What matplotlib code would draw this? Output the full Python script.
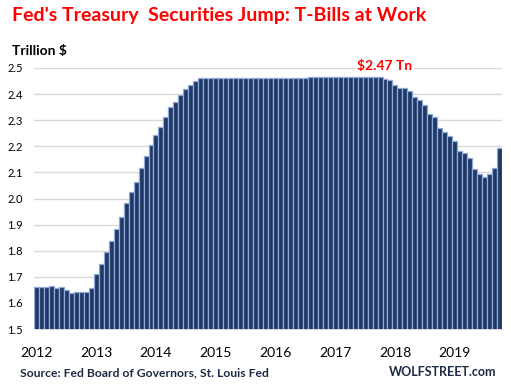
import numpy as np
import matplotlib.pyplot as plt

plt.rcParams['font.family'] = ['Lato', 'DejaVu Sans']

# monthly values, Jan 2012 .. Oct 2019, trillion $
y2012 = [1.660, 1.660, 1.662, 1.666, 1.656, 1.662, 1.649, 1.637, 1.643, 1.643, 1.643, 1.656]
y2013 = [1.711, 1.749, 1.795, 1.838, 1.883, 1.928, 1.982, 2.024, 2.062, 2.115, 2.162, 2.206]
y2014 = [2.242, 2.275, 2.311, 2.350, 2.369, 2.397, 2.419, 2.436, 2.450, 2.4615, 2.4615, 2.4615]
y2015 = [2.4615] * 12
y2016 = [2.4615] * 7 + [2.4645] * 5
y2017 = [2.4645] * 10 + [2.458, 2.453]
y2018 = [2.435, 2.422, 2.422, 2.412, 2.388, 2.377, 2.358, 2.323, 2.312, 2.269, 2.254, 2.238]
y2019 = [2.219, 2.182, 2.173, 2.154, 2.112, 2.092, 2.081, 2.092, 2.115, 2.192]
years = ["2012", "2013", "2014", "2015", "2016", "2017", "2018", "2019"]

values = np.array(y2012 + y2013 + y2014 + y2015 + y2016 + y2017 + y2018 + y2019)
x = np.arange(len(values))
peak = 70  # where the "$2.47 Tn" label sits

fig = plt.figure(figsize=(5.11, 3.86), dpi=100)
ax = fig.add_axes([34 / 511, 1 - 329 / 386, 468 / 511, 261 / 386])

ax.bar(x, values, width=1.0, color="#203864", edgecolor="#8FAADC", linewidth=0.9, zorder=3)

ax.set_ylim(1.5, 2.5)
ax.set_xlim(-0.5, len(values) - 0.5)
ax.set_yticks(np.arange(1.5, 2.51, 0.1))
ax.set_yticklabels([f"{v:.1f}" for v in np.arange(1.5, 2.51, 0.1)], fontsize=8)
ax.set_xticks(np.arange(0, len(values), 12))
ax.set_xticklabels(years, fontsize=10)
ax.tick_params(length=0)
ax.tick_params(axis="y", pad=8)
ax.tick_params(axis="x", pad=13)
ax.grid(axis="y", color="#D9D9D9", linewidth=1, zorder=0)
for s in ["top", "right", "left"]:
    ax.spines[s].set_visible(False)
ax.spines["bottom"].set_color("#D9D9D9")

fig.text(12 / 511, 1 - 15 / 386, "Fed's Treasury  Securities Jump: T-Bills at Work",
         color="#FF0000", fontsize=14, fontweight="bold", va="center", ha="left")
fig.text(12 / 511, 1 - 51 / 386, "Trillion $", fontsize=10, fontweight="bold",
         va="center", ha="left")
ax.text(peak, 2.508, "$2.47 Tn", color="#FF0000", fontsize=10, fontweight="bold",
        ha="center", va="center", zorder=5,
        bbox=dict(facecolor="white", edgecolor="none", pad=1))
fig.text(20 / 511, 1 - 373 / 386, "Source: Fed Board of Governors, St. Louis Fed",
         fontsize=8.7, fontweight="bold", color="#1F2A44", va="center", ha="left")
fig.text(496 / 511, 1 - 372 / 386, "WOLFSTREET.com", fontsize=9, fontweight="bold",
         color="#1F2A44", va="center", ha="right")

fig.savefig("out.png", dpi=100)
